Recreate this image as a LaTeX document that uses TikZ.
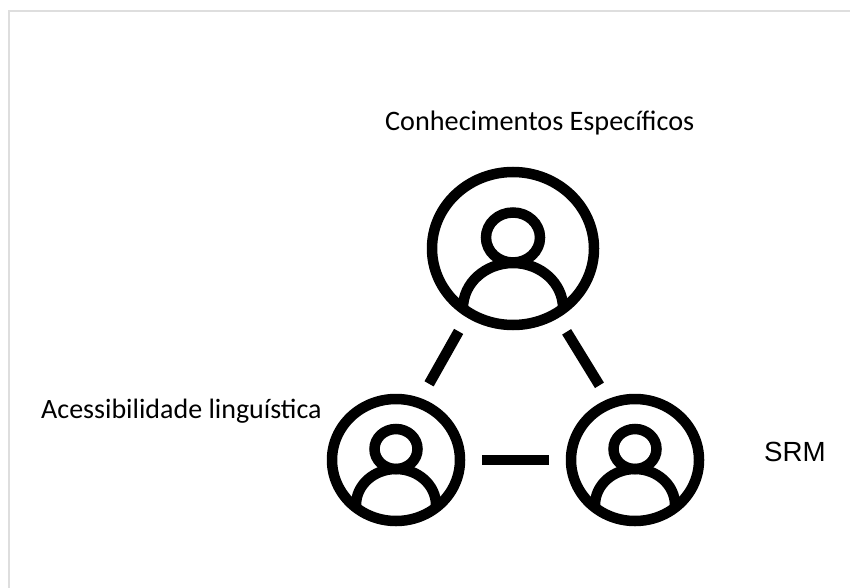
\documentclass[tikz,border=0pt]{standalone}
\usepackage{fontspec}
\usetikzlibrary{shapes.geometric}
\setmainfont{Carlito}
\newfontfamily\srmfont{Liberation Sans}
\tikzset{
  ring/.style={ellipse,draw=black,line width=10.5pt,inner sep=0pt},
  bigring/.style={ring,minimum width=162pt,minimum height=153pt},
  smallring/.style={ring,minimum width=128pt,minimum height=122pt},
  bighead/.style={ring,minimum width=54pt,minimum height=50pt},
  smallhead/.style={ring,minimum width=43pt,minimum height=40pt},
  limb/.style={draw=black,line width=10.5pt},
  link/.style={draw=black,line width=10.5pt},
  lbl/.style={inner sep=0pt,text=black,font=\fontsize{28.2pt}{30pt}\selectfont},
  frameline/.style={draw=black!13,line width=2pt}
}
\begin{document}
\begin{tikzpicture}[x=1pt,y=-1pt]
\useasboundingbox (0,0) rectangle (850,588);
\fill[white] (0,0) rectangle (850,588);
\draw[frameline] (9,588) -- (9,11) -- (850,11);
% top person
\node[bigring] (top) at (513,248.5) {};
\node[bighead] (tophead) at (513,237.5) {};
\begin{scope}
\clip (513,248.5) ellipse [x radius=81pt,y radius=76.5pt];
\draw[limb] (513,308) ellipse [x radius=50pt,y radius=45pt];
\end{scope}
% left person
\node[smallring] (left) at (396,460) {};
\node[smallhead] (lefthead) at (396,449) {};
\begin{scope}
\clip (396,460) ellipse [x radius=64pt,y radius=61pt];
\draw[limb] (396,505) ellipse [x radius=40pt,y radius=36pt];
\end{scope}
% right person
\node[smallring] (right) at (635,460) {};
\node[smallhead] (righthead) at (635,449) {};
\begin{scope}
\clip (635,460) ellipse [x radius=64pt,y radius=61pt];
\draw[limb] (635,505) ellipse [x radius=40pt,y radius=36pt];
\end{scope}
% connectors
\draw[link,shorten <=16.1pt,shorten >=16.5pt] (top.236.3) -- (left.68.8);
\draw[link,shorten <=16.1pt,shorten >=16.1pt] (top.303.7) -- (right.114.2);
\draw[link,shorten <=16.8pt,shorten >=16.8pt] (left.east) -- (right.west);
% labels
\node[lbl,anchor=base west] (ltop) at (385,130.5) {Conhecimentos Específicos};
\node[lbl,anchor=base west,font=\fontsize{28pt}{30pt}\selectfont] (lleft) at (41,418) {Acessibilidade linguística};
\node[lbl,anchor=base west,font=\srmfont\fontsize{27.7pt}{30pt}\selectfont] (lright) at (764,461) {SRM};
\end{tikzpicture}
\end{document}
